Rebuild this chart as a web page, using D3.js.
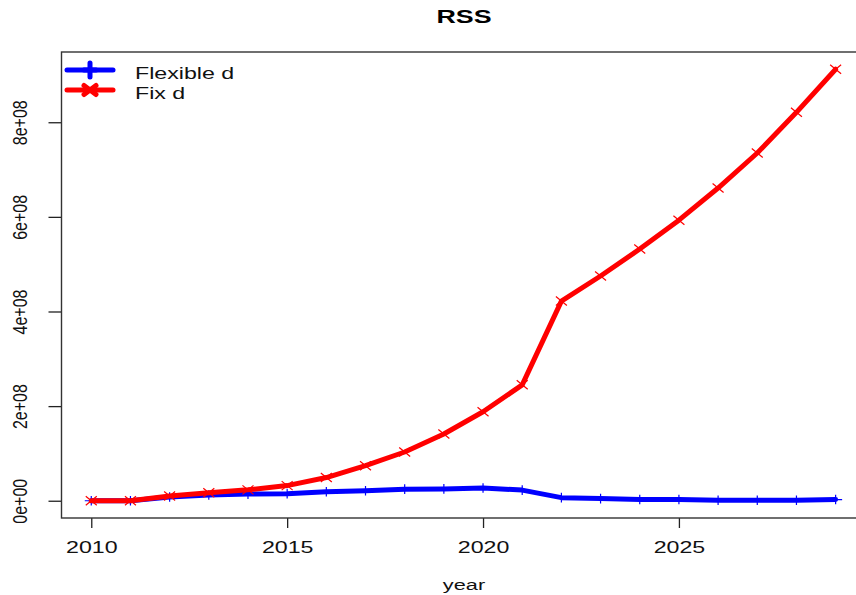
<!DOCTYPE html>
<html>
<head>
<meta charset="utf-8">
<script src="https://cdn.jsdelivr.net/npm/d3@7"></script>
<style>
  html, body { margin: 0; padding: 0; background: #fff; }
  svg { display: block; font-family: "Liberation Sans", Arial, sans-serif; }
</style>
</head>
<body>
<svg id="chart" width="856" height="595"></svg>
<script>
// Yearly RSS for the two model variants
const years = [2010, 2011, 2012, 2013, 2014, 2015, 2016, 2017, 2018, 2019,
               2020, 2021, 2022, 2023, 2024, 2025, 2026, 2027, 2028, 2029];
const flexibleD = [0, 0, 8e6, 1.2e7, 1.4e7, 1.5e7, 1.9e7, 2.1e7, 2.45e7, 2.5e7,
                   2.7e7, 2.25e7, 6.5e6, 4.5e6, 2.5e6, 2.5e6, 1e6, 1e6, 1e6, 2.5e6];
const fixD = [0, 0, 1e7, 1.7e7, 2.3e7, 3.2e7, 4.9e7, 7.4e7, 1.03e8, 1.41e8,
              1.88e8, 2.45e8, 4.22e8, 4.75e8, 5.32e8, 5.93e8, 6.61e8, 7.35e8, 8.21e8, 9.12e8];
const seriesNames = ["Flexible d", "Fix d"];
const xTicks = [2010, 2015, 2020, 2025];
const yTicks = [0, 2e8, 4e8, 6e8, 8e8];
const yTickLabels = ["0e+00", "2e+08", "4e+08", "6e+08", "8e+08"];

const svg = d3.select("#chart");
const plot = { left: 61.5, right: 865.4, top: 52, bottom: 518 };
const SX = 1.45; // horizontal text stretch

// axis ranges padded 4% on each side
const xPad = (d3.max(years) - d3.min(years)) * 0.04;
const yMax = d3.max(fixD);
const yPad = yMax * 0.04;
const x = d3.scaleLinear()
  .domain([d3.min(years) - xPad, d3.max(years) + xPad])
  .range([plot.left, plot.right]);
const y = d3.scaleLinear()
  .domain([-yPad, yMax + yPad])
  .range([plot.bottom, plot.top]);

// title
svg.append("text")
  .attr("transform", `translate(464,22.7) scale(${SX},1)`)
  .attr("text-anchor", "middle")
  .attr("font-weight", "bold")
  .attr("font-size", 18.5)
  .text("RSS");

// x axis
const gx = svg.append("g")
  .attr("transform", `translate(0,${plot.bottom})`)
  .call(d3.axisBottom(x).tickValues(xTicks).tickFormat(d3.format("d")).tickSize(10));
gx.select(".domain").remove();
gx.selectAll(".tick line").attr("stroke", "#222").attr("stroke-width", 1.3);
gx.selectAll(".tick text")
  .attr("x", null).attr("y", null).attr("dy", null)
  .attr("transform", `translate(0,35) scale(${SX},1)`)
  .attr("font-size", 16)
  .attr("fill", "#111");

// y axis
const gy = svg.append("g")
  .attr("transform", `translate(${plot.left},0)`)
  .call(d3.axisLeft(y).tickValues(yTicks)
    .tickFormat((d, i) => yTickLabels[i]).tickSize(13));
gy.select(".domain").remove();
gy.selectAll(".tick line").attr("stroke", "#222").attr("stroke-width", 1.3);
gy.selectAll(".tick text")
  .attr("x", null).attr("y", null).attr("dy", null)
  .attr("text-anchor", "middle")
  .attr("transform", `translate(-34.5,0) scale(1.22,1) rotate(-90)`)
  .attr("font-size", 16)
  .attr("fill", "#111");

// x axis title
svg.append("text")
  .attr("transform", `translate(464,590) scale(${SX},1)`)
  .attr("text-anchor", "middle")
  .attr("font-size", 15)
  .attr("fill", "#111")
  .text("year");

// plot frame
svg.append("rect")
  .attr("x", plot.left).attr("y", plot.top)
  .attr("width", plot.right - plot.left).attr("height", plot.bottom - plot.top)
  .attr("fill", "none").attr("stroke", "#333").attr("stroke-width", 1.4);

const line = d3.line().x(d => x(d[0])).y(d => y(d[1]));

function plusPath(cx, cy, hx, hy) {
  return `M${cx - hx},${cy}H${cx + hx}M${cx},${cy - hy}V${cy + hy}`;
}
function crossPath(cx, cy, hx, hy) {
  return `M${cx - hx},${cy - hy}L${cx + hx},${cy + hy}M${cx - hx},${cy + hy}L${cx + hx},${cy - hy}`;
}

const series = [
  { name: seriesNames[0], values: flexibleD, color: "#0000FF", marker: plusPath, hx: 6.5, hy: 4.8 },
  { name: seriesNames[1], values: fixD, color: "#FF0000", marker: crossPath, hx: 5.5, hy: 4.5 }
];

series.forEach(s => {
  const pts = years.map((yr, i) => [yr, s.values[i]]);
  svg.append("path")
    .datum(pts)
    .attr("d", line)
    .attr("fill", "none")
    .attr("stroke", s.color)
    .attr("stroke-width", 5)
    .attr("stroke-linejoin", "round")
    .attr("stroke-linecap", "round");
  svg.append("g").selectAll("path")
    .data(pts)
    .join("path")
    .attr("d", d => s.marker(x(d[0]), y(d[1]), s.hx, s.hy))
    .attr("stroke", s.color)
    .attr("stroke-width", 1.2)
    .attr("fill", "none");
});

// legend
const legend = svg.append("g");
series.forEach((s, i) => {
  const ly = 70 + i * 20;
  legend.append("line")
    .attr("x1", 67).attr("x2", 113).attr("y1", ly).attr("y2", ly)
    .attr("stroke", s.color).attr("stroke-width", 5).attr("stroke-linecap", "round");
  legend.append("path")
    .attr("d", s.marker(90, ly, i === 0 ? 6 : 6, i === 0 ? 7 : 4.5))
    .attr("stroke", s.color).attr("stroke-width", 5).attr("stroke-linecap", "round")
    .attr("fill", "none");
  legend.append("text")
    .attr("transform", `translate(135,${ly + 9}) scale(${SX},1)`)
    .attr("font-size", 16)
    .attr("fill", "#111")
    .text(s.name);
});
</script>
</body>
</html>
